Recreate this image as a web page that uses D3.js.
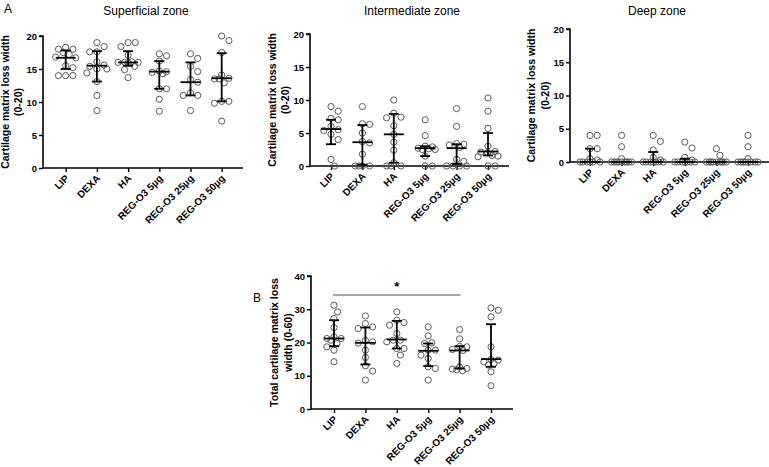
<!DOCTYPE html>
<html><head><meta charset="utf-8">
<script src="https://cdn.jsdelivr.net/npm/d3@7"></script>
<style>
html,body{margin:0;padding:0;background:#fff;}
svg{display:block;font-family:Arial,"Liberation Sans",sans-serif;}
</style></head>
<body><svg id="chart" width="769" height="467"></svg>
<script>
const categories = ["LIP","DEXA","HA","REG-O3 5µg","REG-O3 25µg","REG-O3 50µg"];
const zoneTicks = [0,5,10,15,20];
const totalTicks = [0,10,20,30,40];

const superficialValues = [
  [18.3,18.0,18.0,17.5,17.2,16.8,16.7,15.5,15.2,14.0,14.0,14.0],
  [19.0,18.4,17.6,17.6,16.1,15.6,15.4,15.0,15.0,14.4,13.1,11.0,8.7],
  [19.0,19.0,18.4,17.1,16.1,16.0,16.0,16.0,15.9,15.4,14.9,13.7],
  [17.3,17.0,16.2,14.7,14.6,14.5,14.3,12.0,12.0,10.4,8.6],
  [17.3,16.6,15.4,14.6,13.4,13.0,11.4,11.0,11.0,8.7],
  [20.0,19.3,17.5,14.1,13.6,13.5,13.5,12.9,10.1,10.1,9.8,7.1]
];
const superficialMedian = [16.7,15.5,16.0,14.6,13.0,13.6];
const superficialLow = [15.0,13.1,15.5,12.0,11.0,10.1];
const superficialHigh = [17.8,17.7,17.7,16.2,16.0,17.4];

const intermediateValues = [
  [9.0,8.3,7.2,7.0,6.0,5.5,5.4,4.8,4.0,1.0,0],
  [9.0,6.4,6.3,5.0,3.7,3.5,1.8,0,0,0,0],
  [10.0,8.0,7.4,7.3,6.1,4.8,3.6,2.4,0.5,0,0,0],
  [7.0,4.6,3.0,2.9,2.7,2.6,2.5,2.5,1.5,0,0],
  [8.7,6.0,3.4,3.3,3.2,2.8,1.0,0.7,0,0,0,0],
  [10.3,8.3,5.7,3.0,2.2,2.1,2.0,1.6,1.5,1.4,0,0]
];
const intermediateMedian = [5.6,3.6,4.8,2.7,2.7,2.2];
const intermediateLow = [3.3,0.2,0.5,1.5,0.3,1.6];
const intermediateHigh = [7.0,6.2,7.9,3.0,3.3,5.0];

const deepValues = [
  [4.0,4.0,2.0,2.0,0.5,0.3,0,0,0,0,0,0],
  [4.0,2.3,0.5,0,0,0,0,0,0,0,0,0],
  [4.0,3.1,1.8,0.7,0.3,0,0,0,0,0,0,0],
  [3.0,2.1,0.7,0.3,0,0,0,0,0,0,0],
  [2.0,1.0,0,0,0,0,0,0,0,0,0],
  [4.0,2.3,0.5,0,0,0,0,0,0,0,0]
];
const deepMedian = [0,0,0,0,0,0];
const deepLow = [0,0,0,0,0,0];
const deepHigh = [2.0,0,1.5,0.5,0,0];

const totalValues = [
  [31.2,29.2,27.2,24.5,21.7,21.2,21.2,20.7,19.7,18.7,17.7,14.2],
  [28.0,25.7,24.7,24.2,20.6,20.2,19.8,17.7,15.5,13.0,11.4,8.7],
  [29.2,26.7,26.0,25.2,22.7,20.7,20.7,20.2,18.2,18.2,16.2,13.7],
  [24.7,22.0,19.9,19.7,17.7,17.7,16.2,15.2,12.7,12.2,8.7],
  [23.9,21.1,18.8,18.7,17.9,17.6,12.6,12.2,12.0,11.8,11.5],
  [30.4,29.7,27.7,18.7,14.9,14.7,14.2,13.7,13.2,11.2,7.0]
];
const totalMedian = [21.2,19.9,20.9,17.5,17.6,15.0];
const totalLow = [18.9,13.4,18.2,12.9,12.2,12.7];
const totalHigh = [26.7,24.5,26.5,19.7,18.9,25.5];

const svg = d3.select("#chart");
svg.append("rect").attr("width",769).attr("height",467).attr("fill","#fff");

const R = 3.1, D = 7.2, W = 10;

function swarm(vals, y) {
  const order = vals.map((v,i)=>({v,i})).sort((a,b)=>b.v-a.v);
  const placed = [];
  order.forEach(o => {
    const py = y(o.v);
    let best = null;
    for (let k = 0; k <= 6; k++) {
      const cands = k===0 ? [0] : [k*D*0.5, -k*D*0.5];
      for (const c of cands) {
        if (Math.abs(c) > W) continue;
        const ok = placed.every(p => Math.hypot(p.x-c, p.y-py) >= D*0.98);
        if (ok) { best = c; break; }
      }
      if (best !== null) break;
    }
    if (best === null) {
      let bd = -1;
      for (let c = -W; c <= W+0.01; c += 0.5) {
        const md = placed.length ? d3.min(placed, p => Math.hypot(p.x-c, p.y-py)) : 99;
        if (md > bd) { bd = md; best = c; }
      }
    }
    placed.push({x: best, y: py, v: o.v});
  });
  return placed;
}

function panel(cfg) {
  const g = svg.append("g");
  const y = d3.scaleLinear().domain([cfg.ticks[0], cfg.ticks[cfg.ticks.length-1]]).range([cfg.y0, cfg.y1]);
  const x = d3.scalePoint().domain(categories).range([cfg.cx0, cfg.cx1]);

  const ya = d3.axisLeft(y).tickValues(cfg.ticks).tickSize(4).tickPadding(2).tickFormat(d3.format("d"));
  const yg = g.append("g").attr("transform",`translate(${cfg.ax},0)`).call(ya);
  yg.select(".domain").attr("stroke","#000").attr("stroke-width",1.6).attr("d",`M-4,${cfg.y1}H0V${cfg.y0}`);
  yg.selectAll(".tick line").attr("stroke","#000").attr("stroke-width",1.4);
  yg.selectAll(".tick text").attr("font-size",9.5).attr("font-weight","bold").attr("fill","#000");

  const xa = d3.axisBottom(x).tickSize(4).tickFormat("");
  const xg = g.append("g").attr("transform",`translate(0,${cfg.y0})`).call(xa);
  xg.select(".domain").attr("stroke","#000").attr("stroke-width",1.6).attr("d",`M${cfg.ax},0H${cfg.axEnd}`);
  xg.selectAll(".tick line").attr("stroke","#000").attr("stroke-width",1.4);
  xg.selectAll(".lbl").data(categories).enter().append("text")
    .attr("class","lbl")
    .attr("transform", d => `translate(${x(d)+4},${11}) rotate(-45)`)
    .attr("text-anchor","end").attr("font-size",10).attr("font-weight","bold").attr("fill","#000")
    .text(d => d);

  cfg.values.forEach((vals, ci) => {
    const pts = swarm(vals, y);
    g.selectAll(null).data(pts).enter().append("circle")
      .attr("cx", p => x(categories[ci]) + p.x).attr("cy", p => p.y).attr("r", R)
      .attr("fill","none").attr("stroke","#5a5a5a").attr("stroke-width",1);
  });

  categories.forEach((c, ci) => {
    const cx = x(c);
    const eg = g.append("g").attr("stroke","#000").attr("stroke-width",1.8);
    eg.append("line").attr("x1",cx).attr("x2",cx).attr("y1",y(cfg.low[ci])).attr("y2",y(cfg.high[ci]));
    if (cfg.high[ci] > cfg.median[ci]) eg.append("line").attr("x1",cx-5).attr("x2",cx+5).attr("y1",y(cfg.high[ci])).attr("y2",y(cfg.high[ci]));
    if (cfg.low[ci] < cfg.median[ci]) eg.append("line").attr("x1",cx-5).attr("x2",cx+5).attr("y1",y(cfg.low[ci])).attr("y2",y(cfg.low[ci]));
    eg.append("line").attr("x1",cx-10).attr("x2",cx+10).attr("y1",y(cfg.median[ci])).attr("y2",y(cfg.median[ci]));
  });

  const ym = (cfg.y0 + cfg.y1) / 2;
  cfg.ytitle.forEach((t, i) => {
    g.append("text").attr("transform",`translate(${cfg.ax + cfg.titleOff[i]},${ym}) rotate(-90)`)
      .attr("text-anchor","middle").attr("font-size",10.5).attr("font-weight","bold").attr("fill","#000").text(t);
  });
  if (cfg.title) {
    g.append("text").attr("x", cfg.titleX).attr("y", 15).attr("text-anchor","middle")
      .attr("font-size",12).attr("fill","#000").text(cfg.title);
  }
  return {x, y};
}

panel({values: superficialValues, median: superficialMedian, low: superficialLow, high: superficialHigh,
  ticks: zoneTicks, y0: 168, y1: 36, ax: 43, axEnd: 243, cx0: 65.7, cx1: 221.7,
  ytitle: ["Cartilage matrix loss width","(0-20)"], titleOff: [-34,-21], title: "Superficial  zone", titleX: 146});
panel({values: intermediateValues, median: intermediateMedian, low: intermediateLow, high: intermediateHigh,
  ticks: zoneTicks, y0: 166, y1: 34, ax: 310, axEnd: 509, cx0: 331, cx1: 488,
  ytitle: ["Cartilage matrix loss width","(0-20)"], titleOff: [-34,-21], title: "Intermediate  zone", titleX: 412});
panel({values: deepValues, median: deepMedian, low: deepLow, high: deepHigh,
  ticks: zoneTicks, y0: 162, y1: 29, ax: 570, axEnd: 769, cx0: 590, cx1: 748,
  ytitle: ["Cartilage matrix loss width","(0-20)"], titleOff: [-35,-21], title: "Deep  zone", titleX: 657});
const pb = panel({values: totalValues, median: totalMedian, low: totalLow, high: totalHigh,
  ticks: totalTicks, y0: 409, y1: 276, ax: 311, axEnd: 513, cx0: 334, cx1: 491,
  ytitle: ["Total cartilage matrix loss","width (0-60)"], titleOff: [-33,-19]});

svg.append("line").attr("x1", pb.x(categories[0])-1).attr("x2", pb.x(categories[4])+1)
  .attr("y1", 295).attr("y2", 295).attr("stroke","#555").attr("stroke-width",1);
svg.append("text").attr("x", (pb.x(categories[0]) + pb.x(categories[4]))/2).attr("y", 291)
  .attr("text-anchor","middle").attr("font-size",13).attr("font-weight","bold").text("*");

svg.append("text").attr("x",4).attr("y",13).attr("font-size",12).text("A");
svg.append("text").attr("x",253).attr("y",302).attr("font-size",12).text("B");
</script></body></html>
